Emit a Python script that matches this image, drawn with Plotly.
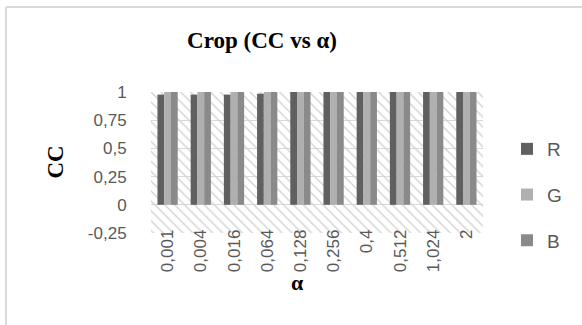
import plotly.graph_objects as go

alpha_labels = ["0,001", "0,004", "0,016", "0,064", "0,128", "0,256", "0,4", "0,512", "1,024", "2"]
R = [0.977, 0.977, 0.977, 0.985, 1.0, 1.0, 1.0, 1.0, 1.0, 1.0]
G = [1.0, 1.0, 1.0, 1.0, 1.0, 1.0, 1.0, 1.0, 1.0, 1.0]
B = [1.0, 1.0, 1.0, 1.0, 1.0, 1.0, 1.0, 1.0, 1.0, 1.0]
y_ticks = [-0.25, 0, 0.25, 0.5, 0.75, 1]
y_ticktext = ["-0,25", "0", "0,25", "0,5", "0,75", "1"]

W, H = 582, 325
L, Rm, T, Bm = 151, 99, 92, 92

fig = go.Figure()

# hatched plot-area background
fig.add_trace(go.Bar(
    x=[0.5], y=[1.25], base=[-0.25], width=[1], xaxis="x", yaxis="y",
    marker=dict(color="rgba(255,255,255,0)", line=dict(width=0),
                pattern=dict(shape="\\", fgcolor="#d2d2d2", fgopacity=1,
                             fillmode="overlay", size=7, solidity=0.2)),
    showlegend=False, hoverinfo="skip"))

series = [("R", R, "#606060"), ("G", G, "#b0b0b0"), ("B", B, "#8a8a8a")]
for i, (name, vals, col) in enumerate(series):
    fig.add_trace(go.Bar(x=alpha_labels, y=vals, name=name, xaxis="x2", yaxis="y",
                         marker=dict(color=col, line=dict(width=0)),
                         legendgroup=name))

font_tick = dict(family="Liberation Sans", size=17, color="#595959")

fig.update_layout(
    width=W, height=H,
    margin=dict(l=L, r=Rm, t=T, b=Bm, autoexpand=False),
    paper_bgcolor="white", plot_bgcolor="white",
    barmode="group", bargap=0.39, bargroupgap=0,
    showlegend=True,
    legend=dict(x=507 / W, xanchor="left", xref="container",
                y=1 - 130 / H, yanchor="top", yref="container",
                font=dict(family="Liberation Sans", size=19, color="#595959"),
                tracegroupgap=18, bgcolor="rgba(0,0,0,0)", itemwidth=30),
    title=dict(text="<b>Crop (CC vs α)</b>", x=262 / W, xanchor="center",
               y=1 - 40 / H, yanchor="middle", xref="container", yref="container",
               font=dict(family="Liberation Serif", size=23, color="black")),
    xaxis=dict(range=[0, 1], visible=False, fixedrange=True),
    xaxis2=dict(type="category", overlaying="x", anchor="free", position=0.2,
                showgrid=False, showline=False, zeroline=False,
                tickangle=-90, tickfont=font_tick,
                ticks="outside", ticklen=17, tickcolor="rgba(0,0,0,0)",
                range=[-0.5, 9.5]),
    yaxis=dict(range=[-0.25, 1], tickvals=y_ticks, ticktext=y_ticktext,
               tickfont=font_tick, showgrid=True, gridcolor="#d9d9d9", gridwidth=1,
               zeroline=True, zerolinecolor="#d9d9d9", zerolinewidth=1,
               showline=False, ticks="outside", ticklen=20,
               tickcolor="rgba(0,0,0,0)"),
)

fig.add_annotation(text="<b>CC</b>", textangle=-90, xref="paper", yref="paper",
                   x=(55 - L) / (W - L - Rm), y=0.5, xanchor="center", yanchor="middle",
                   showarrow=False, font=dict(family="Liberation Serif", size=23, color="black"))
fig.add_annotation(text="<b>α</b>", xref="paper", yref="paper",
                   x=(297 - L) / (W - L - Rm), y=-(282 - (H - Bm)) / (H - T - Bm),
                   xanchor="center", yanchor="middle",
                   showarrow=False, font=dict(family="Liberation Serif", size=22, color="black"))

# outer chart border: only top and left edges are visible in the frame
px = lambda v: (v - L) / (W - L - Rm)
py = lambda v: ((H - Bm) - v) / (H - T - Bm)
fig.add_shape(type="line", xref="paper", yref="paper",
              x0=px(6), x1=px(W), y0=py(7), y1=py(7),
              line=dict(color="#d9d9d9", width=2), layer="below")
fig.add_shape(type="line", xref="paper", yref="paper",
              x0=px(6), x1=px(6), y0=py(7), y1=py(H),
              line=dict(color="#d9d9d9", width=2), layer="below")

fig.write_html("out.html")
